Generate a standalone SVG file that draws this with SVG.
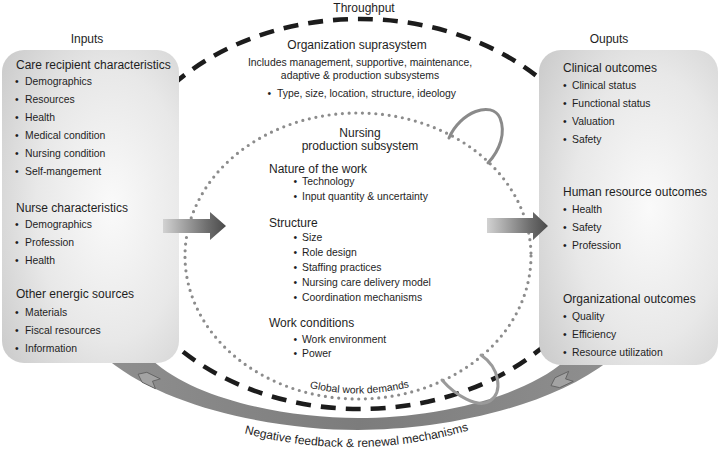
<svg xmlns="http://www.w3.org/2000/svg" width="720" height="453" viewBox="0 0 720 453">
<defs>
<radialGradient id="boxGrad" cx="0.62" cy="0.5" r="0.78">
<stop offset="0" stop-color="#fafafa"/>
<stop offset="0.55" stop-color="#e8e8e8"/>
<stop offset="1" stop-color="#cbcbcb"/>
</radialGradient>
<linearGradient id="arrowGrad" x1="0" y1="0" x2="1" y2="0">
<stop offset="0" stop-color="#d2d2d2"/>
<stop offset="0.7" stop-color="#6e6e6e"/>
<stop offset="1" stop-color="#4a4a4a"/>
</linearGradient>
<linearGradient id="bandGrad" x1="0" y1="0" x2="1" y2="0">
<stop offset="0" stop-color="#8f8f8f"/>
<stop offset="0.5" stop-color="#7c7c7c"/>
<stop offset="1" stop-color="#8f8f8f"/>
</linearGradient>
<path id="feedbackPath" d="M 243 433 A 423 423 0 0 0 470 430"/>
<path id="globalPath" d="M 306 387 A 211 211 0 0 0 413 386"/>
<polygon id="notchArrow" points="-11,0 -4,-5.5 11,-5.5 5,0 11,5.5 -4,5.5"/>
</defs>
<style>
text { font-family: "Liberation Sans", Arial, Helvetica, sans-serif; fill: #1e1e1e; }
.h { font-size: 12px; }
.b { font-size: 10.4px; }
.m { text-anchor: middle; }
.box { fill: url(#boxGrad); }
.dash { fill: none; stroke: #1c1c1c; stroke-width: 4.6; stroke-dasharray: 15 10; }
.dots { fill: none; stroke: #8c8c8c; stroke-width: 3.2; stroke-linecap: round; stroke-dasharray: 0 6.7; }
.loop { fill: none; stroke-width: 3; stroke-linecap: round; }
.big { fill: url(#arrowGrad); }
.fb { fill: #a3a3a3; stroke: #5e5e5e; stroke-width: 0.8; }
</style>

<g id="throughput-boundary">
<ellipse class="dash" cx="360" cy="214" rx="250" ry="195"/>
</g>
<g id="nursing-boundary">
<ellipse class="dots" cx="358" cy="256" rx="173" ry="143"/>
</g>

<g id="connectors">
<path id="feedback-band" d="M 108 360 C 170 410, 280 430, 358 430 C 436 430, 546 410, 610 360 L 566 360 C 520 400, 430 418, 358 418 C 286 418, 196 400, 152 360 Z" fill="url(#bandGrad)"/>
</g>

<g id="inputs">
<rect class="box" x="2" y="50" width="177" height="313" rx="22" ry="22"/>
<text class="h m" x="87" y="43">Inputs</text>
<text class="h" x="16" y="69">Care recipient characteristics</text>
<text class="b"><tspan x="15" y="85">•</tspan><tspan x="25" y="85">Demographics</tspan></text>
<text class="b"><tspan x="15" y="103">•</tspan><tspan x="25" y="103">Resources</tspan></text>
<text class="b"><tspan x="15" y="121">•</tspan><tspan x="25" y="121">Health</tspan></text>
<text class="b"><tspan x="15" y="139">•</tspan><tspan x="25" y="139">Medical condition</tspan></text>
<text class="b"><tspan x="15" y="157">•</tspan><tspan x="25" y="157">Nursing condition</tspan></text>
<text class="b"><tspan x="15" y="175">•</tspan><tspan x="25" y="175">Self-mangement</tspan></text>
<text class="h" x="16" y="212">Nurse characteristics</text>
<text class="b"><tspan x="15" y="228">•</tspan><tspan x="25" y="228">Demographics</tspan></text>
<text class="b"><tspan x="15" y="246">•</tspan><tspan x="25" y="246">Profession</tspan></text>
<text class="b"><tspan x="15" y="264">•</tspan><tspan x="25" y="264">Health</tspan></text>
<text class="h" x="16" y="298">Other energic sources</text>
<text class="b"><tspan x="15" y="316">•</tspan><tspan x="25" y="316">Materials</tspan></text>
<text class="b"><tspan x="15" y="334">•</tspan><tspan x="25" y="334">Fiscal resources</tspan></text>
<text class="b"><tspan x="15" y="352">•</tspan><tspan x="25" y="352">Information</tspan></text>
</g>

<g id="outputs">
<rect class="box" x="539" y="50" width="179" height="315" rx="22" ry="22"/>
<text class="h m" x="609" y="43">Ouputs</text>
<text class="h" x="563" y="72">Clinical outcomes</text>
<text class="b"><tspan x="563" y="89">•</tspan><tspan x="572" y="89">Clinical status</tspan></text>
<text class="b"><tspan x="563" y="107">•</tspan><tspan x="572" y="107">Functional status</tspan></text>
<text class="b"><tspan x="563" y="125">•</tspan><tspan x="572" y="125">Valuation</tspan></text>
<text class="b"><tspan x="563" y="143">•</tspan><tspan x="572" y="143">Safety</tspan></text>
<text class="h" x="563" y="196">Human resource outcomes</text>
<text class="b"><tspan x="563" y="213">•</tspan><tspan x="572" y="213">Health</tspan></text>
<text class="b"><tspan x="563" y="231">•</tspan><tspan x="572" y="231">Safety</tspan></text>
<text class="b"><tspan x="563" y="249">•</tspan><tspan x="572" y="249">Profession</tspan></text>
<text class="h" x="563" y="303">Organizational outcomes</text>
<text class="b"><tspan x="563" y="320">•</tspan><tspan x="572" y="320">Quality</tspan></text>
<text class="b"><tspan x="563" y="338">•</tspan><tspan x="572" y="338">Efficiency</tspan></text>
<text class="b"><tspan x="563" y="356">•</tspan><tspan x="572" y="356">Resource utilization</tspan></text>
</g>

<g id="connectors-2">
<polygon id="arrow-in" class="big" points="163,219 210,219 210,212 226,226 210,240 210,233 163,233"/>
<polygon id="arrow-out" class="big" points="487,218 533,218 533,212 548,226 533,240 533,233 487,233"/>
<use href="#notchArrow" class="fb" transform="translate(148,379) rotate(26)"/>
<use href="#notchArrow" class="fb" transform="translate(561,381) rotate(-25)"/>
<path id="loop-top" class="loop" stroke="#8a8a8a" d="M 449 138 C 460 112, 492 100, 500 118 C 506 133, 500 150, 488 163"/>
<path id="loop-bottom" class="loop" stroke="#9a9a9a" d="M 481 355 C 500 368, 503 392, 490 401 C 478 409, 455 395, 442 380"/>
<text class="h"><textPath href="#feedbackPath" startOffset="50%" text-anchor="middle">Negative feedback &amp; renewal mechanisms</textPath></text>
</g>

<g id="organization-suprasystem">
<text class="h m" x="364" y="12">Throughput</text>
<text class="h m" x="357" y="49">Organization suprasystem</text>
<text class="b m" x="360" y="66">Includes management, supportive, maintenance,</text>
<text class="b m" x="360" y="79">adaptive &amp; production subsystems</text>
<text class="b"><tspan x="267.5" y="97">•</tspan><tspan x="277" y="97">Type, size, location, structure, ideology</tspan></text>
<text class="b"><textPath href="#globalPath" startOffset="50%" text-anchor="middle">Global work demands</textPath></text>
</g>

<g id="nursing-production-subsystem">
<text class="h m" x="360" y="137">Nursing</text>
<text class="h m" x="360" y="150">production subsystem</text>
<text class="h" x="269" y="173">Nature of the work</text>
<text class="b"><tspan x="293.5" y="185">•</tspan><tspan x="302" y="185">Technology</tspan></text>
<text class="b"><tspan x="293.5" y="200">•</tspan><tspan x="302" y="200">Input quantity &amp; uncertainty</tspan></text>
<text class="h" x="269" y="227">Structure</text>
<text class="b"><tspan x="293.5" y="241">•</tspan><tspan x="302" y="241">Size</tspan></text>
<text class="b"><tspan x="293.5" y="256">•</tspan><tspan x="302" y="256">Role design</tspan></text>
<text class="b"><tspan x="293.5" y="271">•</tspan><tspan x="302" y="271">Staffing practices</tspan></text>
<text class="b"><tspan x="293.5" y="286">•</tspan><tspan x="302" y="286">Nursing care delivery model</tspan></text>
<text class="b"><tspan x="293.5" y="301">•</tspan><tspan x="302" y="301">Coordination mechanisms</tspan></text>
<text class="h" x="269" y="327">Work conditions</text>
<text class="b"><tspan x="293.5" y="343">•</tspan><tspan x="302" y="343">Work environment</tspan></text>
<text class="b"><tspan x="293.5" y="357">•</tspan><tspan x="302" y="357">Power</tspan></text>
</g>
</svg>
